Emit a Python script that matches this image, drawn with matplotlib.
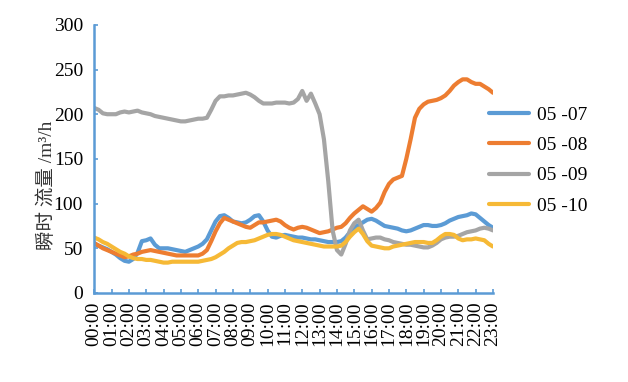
import numpy as np
from matplotlib import pyplot as plt

# time of day in hours, every 15 min
hours = np.arange(0, 23.01, 0.25)
tick_labels = [f"{h:02d}:00" for h in range(24)]

flow_0507 = [55, 53, 51, 49, 46, 43, 39, 36, 35, 38, 45, 58, 59, 61, 54, 50,
             50, 50, 49, 48, 47, 46, 48, 50, 52, 55, 60, 70, 80, 86, 87, 84,
             80, 79, 78, 79, 82, 86, 87, 80, 70, 63, 62, 64, 65, 64, 63, 62,
             62, 61, 60, 60, 59, 58, 57, 57, 57, 58, 62, 68, 73, 76, 79, 82,
             83, 81, 78, 75, 74, 73, 72, 70, 69, 70, 72, 74, 76, 76, 75, 75,
             76, 78, 81, 83, 85, 86, 87, 89, 88, 84, 80, 76, 73]
flow_0508 = [56, 53, 50, 48, 46, 44, 42, 40, 41, 43, 44, 46, 47, 48, 47, 46,
             45, 44, 43, 42, 42, 42, 42, 42, 42, 44, 48, 58, 69, 78, 84, 82,
             80, 78, 76, 74, 73, 76, 79, 79, 80, 81, 82, 80, 76, 73, 71, 73,
             74, 73, 71, 69, 67, 68, 69, 71, 73, 74, 78, 84, 89, 93, 97, 94,
             91, 95, 101, 113, 122, 127, 129, 131, 150, 172, 196, 206, 211, 214, 215, 216,
             218, 221, 226, 232, 236, 239, 239, 236, 234, 234, 231, 228, 224]
flow_0509 = [207, 205, 201, 200, 200, 200, 202, 203, 202, 203, 204, 202, 201, 200, 198, 197,
             196, 195, 194, 193, 192, 192, 193, 194, 195, 195, 196, 205, 215, 220, 220, 221,
             221, 222, 223, 224, 222, 219, 215, 212, 212, 212, 213, 213, 213, 212, 213, 217,
             226, 215, 223, 212, 200, 172, 125, 70, 48, 43, 55, 70, 78, 82, 70, 60,
             61, 62, 62, 60, 59, 57, 56, 55, 54, 54, 53, 52, 51, 51, 53, 56,
             60, 62, 63, 63, 64, 66, 68, 69, 70, 72, 73, 72, 70]
flow_0510 = [62, 60, 57, 55, 52, 49, 46, 44, 41, 39, 38, 38, 37, 37, 36, 35,
             34, 34, 35, 35, 35, 35, 35, 35, 35, 36, 37, 38, 40, 43, 46, 50,
             53, 56, 57, 57, 58, 59, 61, 63, 65, 66, 66, 65, 63, 61, 59, 58,
             57, 56, 55, 54, 53, 52, 52, 52, 52, 53, 57, 63, 68, 72, 66, 58,
             53, 52, 51, 50, 50, 52, 53, 54, 55, 56, 57, 57, 57, 56, 56, 59,
             63, 66, 66, 65, 61, 59, 60, 60, 61, 60, 59, 55, 52]

series_names = ["05 -07", "05 -08", "05 -09", "05 -10"]
colors = ["#5B9BD5", "#ED7D31", "#A5A5A5", "#F6B936"]

plt.rcParams['font.family'] = ['Liberation Serif', 'Noto Sans CJK SC']

fig = plt.figure(figsize=(6.28, 3.82), dpi=100)
ax = fig.add_axes([0.150, 0.233, 0.635, 0.702])

for data, name, c in zip([flow_0507, flow_0508, flow_0509, flow_0510], series_names, colors):
    ax.plot(hours, data, color=c, lw=3, label=name, solid_capstyle='round')

ax.set_xlim(0, 23)
ax.set_ylim(0, 300)
ax.set_xticks(range(24))
ax.set_xticklabels(tick_labels, rotation=90, fontsize=14)
ax.set_yticks(range(0, 301, 50))
ax.tick_params(axis='y', labelsize=14, direction='in', length=3, color='#5B9BD5', width=1.2, pad=8)
ax.tick_params(axis='x', direction='in', length=3, color='#5B9BD5', width=1.2, pad=6)

for s in ['top', 'right']:
    ax.spines[s].set_visible(False)
for s in ['left', 'bottom']:
    ax.spines[s].set_color('#5B9BD5')
    ax.spines[s].set_linewidth(1.8)

ax.set_ylabel("瞬时 流量 /m³/h", fontsize=14, color='#333333')
ax.yaxis.set_label_coords(-0.097, 0.40)

fig.legend(loc='upper left', bbox_to_anchor=(0.778, 0.722), frameon=False, fontsize=14,
           handlelength=2.1, handletextpad=0.4, labelspacing=0.65, borderpad=0, borderaxespad=0)

fig.savefig("out.png", dpi=100)
